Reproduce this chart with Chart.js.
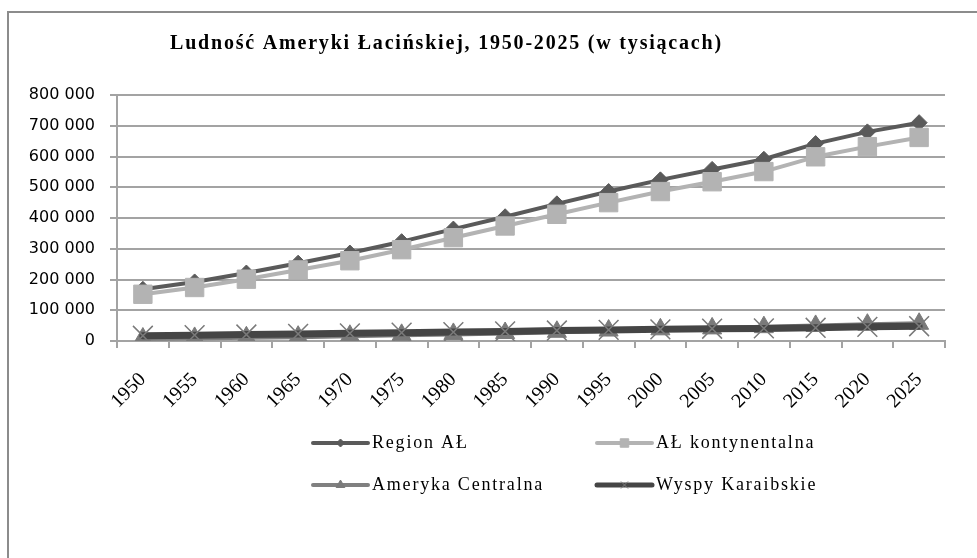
<!DOCTYPE html>
<html>
<head>
<meta charset="utf-8">
<script src="https://cdn.jsdelivr.net/npm/chart.js@4"></script>
<style>
  html, body { margin: 0; padding: 0; background: #fff; }
  #wrap { width: 977px; height: 558px; }
</style>
</head>
<body>
<div id="wrap"><canvas id="chart" width="977" height="558"></canvas></div>
<script>
// Dane (w tysiącach)
const years = ['1950', '1955', '1960', '1965', '1970', '1975', '1980', '1985',
               '1990', '1995', '2000', '2005', '2010', '2015', '2020', '2025'];
const regionAL = [168000, 192000, 221000, 253000, 286000, 323000, 364000, 404000,
                  446000, 486000, 524000, 558000, 591000, 642000, 680000, 710000];
const alKontynentalna = [152000, 174000, 201000, 231000, 261000, 297000, 336000, 374000,
                         412000, 450000, 486000, 518000, 551000, 599000, 632000, 662000];
const amerykaCentralna = [8000, 10000, 12000, 14000, 17000, 20000, 23000, 26000,
                          30000, 34000, 38000, 41000, 45000, 49000, 53000, 56000];
const wyspyKaraibskie = [17000, 19000, 21000, 23000, 25000, 27000, 29000, 31000,
                         34000, 36000, 38000, 40000, 41000, 43000, 46000, 48000];
const yTicks = [0, 100000, 200000, 300000, 400000, 500000, 600000, 700000, 800000];

const chartTitle = 'Ludność Ameryki Łacińskiej, 1950-2025 (w tysiącach)';

const serif = '"Liberation Serif", "Times New Roman", serif';
const gridColor = '#a3a3a3';

// Ramka, tytuł i legenda w dwóch kolumnach
const framePlugin = {
    id: 'frame',
    beforeDraw(chart) {
        const ctx = chart.ctx;
        ctx.save();
        ctx.fillStyle = '#fff';
        ctx.fillRect(0, 0, chart.width, chart.height);
        ctx.strokeStyle = '#8c8c8c';
        ctx.lineWidth = 2;
        ctx.beginPath();
        ctx.moveTo(8, chart.height);
        ctx.lineTo(8, 12);
        ctx.lineTo(chart.width, 12);
        ctx.stroke();
        ctx.restore();
    },
    afterDraw(chart) {
        const ctx = chart.ctx;
        ctx.save();
        // tytuł
        ctx.fillStyle = '#000';
        ctx.font = 'bold 20px ' + serif;
        ctx.letterSpacing = '1.8px';
        ctx.textAlign = 'left';
        ctx.textBaseline = 'middle';
        ctx.fillText(chartTitle, 170, 44);

        // legenda
        const colX = [313, 597];
        const rowY = [443, 485];
        ctx.font = '18px ' + serif;
        chart.data.datasets.forEach((ds, i) => {
            const x = colX[i % 2];
            const y = rowY[Math.floor(i / 2)];
            ctx.strokeStyle = ds.borderColor;
            ctx.lineWidth = ds.legendLineWidth;
            ctx.lineCap = 'round';
            ctx.beginPath();
            ctx.moveTo(x, y);
            ctx.lineTo(x + 55, y);
            ctx.stroke();
            ctx.fillStyle = ds.pointBackgroundColor;
            ctx.strokeStyle = ds.pointBorderColor;
            ctx.lineWidth = 1;
            ctx.lineCap = 'butt';
            Chart.helpers.drawPoint(ctx, {
                pointStyle: ds.pointStyle,
                radius: ds.legendPointRadius,
                borderWidth: 1,
                rotation: 0
            }, x + 27.5, y);
            ctx.fillStyle = '#000';
            ctx.fillText(ds.label, x + 59, y);
        });
        ctx.restore();
    }
};

function fmt(v) {
    return String(v).replace(/\B(?=(\d{3})+(?!\d))/g, ' ');
}

new Chart(document.getElementById('chart'), {
    type: 'line',
    data: {
        labels: years,
        datasets: [
            {
                label: 'Region AŁ',
                data: regionAL,
                borderColor: '#5a5a5a',
                borderWidth: 4,
                pointStyle: 'rectRot',
                pointRadius: 8,
                pointBackgroundColor: '#5a5a5a',
                pointBorderColor: '#5a5a5a',
                pointBorderWidth: 1,
                legendLineWidth: 4,
                legendPointRadius: 4,
                order: 4
            },
            {
                label: 'AŁ kontynentalna',
                data: alKontynentalna,
                borderColor: '#b3b3b3',
                borderWidth: 4,
                pointStyle: 'rect',
                pointRadius: 13,
                pointBackgroundColor: '#b3b3b3',
                pointBorderColor: '#b3b3b3',
                pointBorderWidth: 1,
                legendLineWidth: 4,
                legendPointRadius: 6,
                order: 3
            },
            {
                label: 'Ameryka Centralna',
                data: amerykaCentralna,
                borderColor: '#808080',
                borderWidth: 5,
                pointStyle: 'triangle',
                pointRadius: 11,
                pointBackgroundColor: '#7a7a7a',
                pointBorderColor: '#7a7a7a',
                pointBorderWidth: 1,
                legendLineWidth: 4,
                legendPointRadius: 5,
                order: 2
            },
            {
                label: 'Wyspy Karaibskie',
                data: wyspyKaraibskie,
                borderColor: '#454545',
                borderWidth: 7,
                pointStyle: 'crossRot',
                pointRadius: 14,
                pointBackgroundColor: '#7a7a7a',
                pointBorderColor: '#7a7a7a',
                pointBorderWidth: 1.5,
                legendLineWidth: 5,
                legendPointRadius: 5,
                order: 1
            }
        ]
    },
    options: {
        responsive: false,
        animation: false,
        layout: { padding: { left: 10, top: 95, right: 32, bottom: 137 } },
        elements: { line: { tension: 0, borderJoinStyle: 'round', borderCapStyle: 'round' } },
        plugins: {
            legend: { display: false },
            title: { display: false },
            tooltip: { enabled: false }
        },
        scales: {
            x: {
                offset: true,
                grid: { offset: true, drawOnChartArea: false, drawTicks: true, tickLength: 7, color: gridColor, lineWidth: 2 },
                border: { color: gridColor, width: 2 },
                ticks: {
                    minRotation: 45, maxRotation: 45, autoSkip: false,
                    color: '#000', padding: 20,
                    font: { family: serif, size: 20 }
                },
                afterFit(scale) { scale.height = 80; }
            },
            y: {
                min: 0, max: 800000,
                afterBuildTicks(scale) { scale.ticks = yTicks.map(v => ({ value: v })); },
                grid: { color: gridColor, lineWidth: 2, tickLength: 7 },
                border: { color: gridColor, width: 2 },
                ticks: {
                    color: '#000', padding: 15,
                    font: { family: '"DejaVu Sans"', size: 16 },
                    callback: v => fmt(v)
                },
                afterFit(scale) { scale.width = 107; }
            }
        }
    },
    plugins: [framePlugin]
});
</script>
</body>
</html>
